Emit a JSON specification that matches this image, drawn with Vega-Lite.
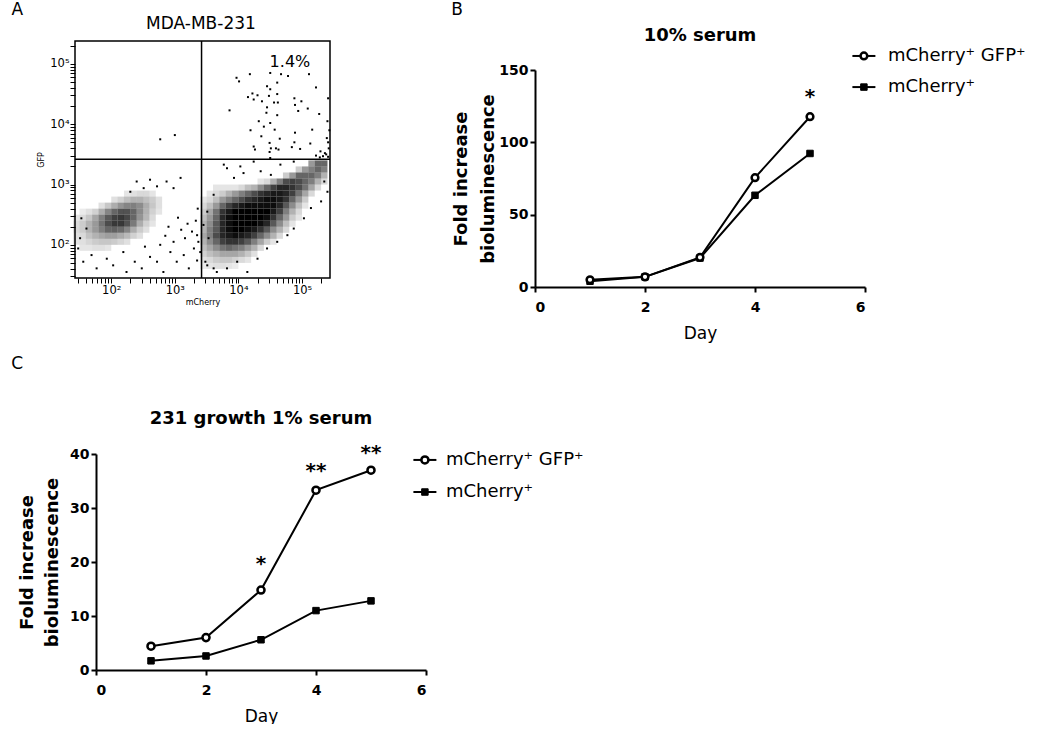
{
  "$schema": "https://vega.github.io/schema/vega-lite/v6.json",
  "background": "white",
  "padding": {"left": 10, "top": 0, "right": 0, "bottom": 0},
  "config": {
    "font": "DejaVu Sans",
    "view": {"stroke": null},
    "axis": {"grid": false, "domainColor": "black", "tickColor": "black", "labelColor": "black", "titleColor": "black", "labelFont": "DejaVu Sans", "titleFont": "DejaVu Sans"}
  },
  "datasets": {
    "serum10": [
      {"day": 1, "series": "mCherry⁺ GFP⁺", "value": 5},
      {"day": 2, "series": "mCherry⁺ GFP⁺", "value": 7},
      {"day": 3, "series": "mCherry⁺ GFP⁺", "value": 20.5},
      {"day": 4, "series": "mCherry⁺ GFP⁺", "value": 75.6},
      {"day": 5, "series": "mCherry⁺ GFP⁺", "value": 117.7},
      {"day": 1, "series": "mCherry⁺", "value": 4},
      {"day": 2, "series": "mCherry⁺", "value": 7},
      {"day": 3, "series": "mCherry⁺", "value": 20},
      {"day": 4, "series": "mCherry⁺", "value": 63.4},
      {"day": 5, "series": "mCherry⁺", "value": 92.3}
    ],
    "serum1": [
      {"day": 1, "series": "mCherry⁺ GFP⁺", "value": 4.4},
      {"day": 2, "series": "mCherry⁺ GFP⁺", "value": 6.0},
      {"day": 3, "series": "mCherry⁺ GFP⁺", "value": 14.8},
      {"day": 4, "series": "mCherry⁺ GFP⁺", "value": 33.3},
      {"day": 5, "series": "mCherry⁺ GFP⁺", "value": 37.0},
      {"day": 1, "series": "mCherry⁺", "value": 1.7},
      {"day": 2, "series": "mCherry⁺", "value": 2.6},
      {"day": 3, "series": "mCherry⁺", "value": 5.6},
      {"day": 4, "series": "mCherry⁺", "value": 11.0},
      {"day": 5, "series": "mCherry⁺", "value": 12.8}
    ],
    "sig10": [{"day": 5, "value": 131, "sig": "*"}],
    "sig1": [{"day": 3, "value": 19.7, "sig": "*"}, {"day": 4, "value": 36.9, "sig": "**"}, {"day": 5, "value": 40.1, "sig": "**"}],
    "gates": [{"mch": 3.42, "gfp": 3.42}],
    "quadrant": [{"mch": 4.81, "gfp": 5.04, "pct": "1.4%"}],
    "headA": [{"mch": 0.523, "gfp": 5.889, "panel": "A"}],
    "titleA": [{"mch": 3.411, "gfp": 5.654, "title": "MDA-MB-231"}],
    "headB": [{"day": -1.418, "value": 191.3, "panel": "B"}],
    "titleB": [{"day": 3.0, "value": 173.8, "title": "10% serum"}],
    "headC": [{"day": -1.431, "value": 56.67, "panel": "C"}],
    "titleC": [{"day": 3.0, "value": 46.48, "title": "231 growth 1% serum"}],
    "keyB": [{"series": "mCherry⁺ GFP⁺", "day": 5.98, "value": 159.7}, {"series": "mCherry⁺", "day": 5.98, "value": 138.2}],
    "keyC": [{"series": "mCherry⁺ GFP⁺", "day": 5.98, "value": 38.9}, {"series": "mCherry⁺", "day": 5.98, "value": 32.96}],
    "cells": [
      {"mch":5.15,"gfp":3.35,"dens":0.4},{"mch":5.25,"gfp":3.35,"dens":0.6},{"mch":5.35,"gfp":3.35,"dens":0.6},
      {"mch":4.95,"gfp":3.25,"dens":0.2},{"mch":5.05,"gfp":3.25,"dens":0.4},{"mch":5.15,"gfp":3.25,"dens":0.5},{"mch":5.25,"gfp":3.25,"dens":0.6},{"mch":5.35,"gfp":3.25,"dens":0.5},
      {"mch":4.75,"gfp":3.15,"dens":0.2},{"mch":4.85,"gfp":3.15,"dens":0.4},{"mch":4.95,"gfp":3.15,"dens":0.6},{"mch":5.05,"gfp":3.15,"dens":0.6},{"mch":5.15,"gfp":3.15,"dens":0.6},{"mch":5.25,"gfp":3.15,"dens":0.5},{"mch":5.35,"gfp":3.15,"dens":0.3},
      {"mch":4.35,"gfp":3.05,"dens":0.1},{"mch":4.45,"gfp":3.05,"dens":0.15},{"mch":4.55,"gfp":3.05,"dens":0.3},{"mch":4.65,"gfp":3.05,"dens":0.5},{"mch":4.75,"gfp":3.05,"dens":0.7},{"mch":4.85,"gfp":3.05,"dens":0.75},{"mch":4.95,"gfp":3.05,"dens":0.7},{"mch":5.05,"gfp":3.05,"dens":0.6},{"mch":5.15,"gfp":3.05,"dens":0.5},{"mch":5.25,"gfp":3.05,"dens":0.3},{"mch":5.35,"gfp":3.05,"dens":0.15},
      {"mch":3.65,"gfp":2.95,"dens":0.1},{"mch":3.75,"gfp":2.95,"dens":0.1},{"mch":3.85,"gfp":2.95,"dens":0.1},{"mch":3.95,"gfp":2.95,"dens":0.1},{"mch":4.05,"gfp":2.95,"dens":0.15},{"mch":4.15,"gfp":2.95,"dens":0.25},{"mch":4.25,"gfp":2.95,"dens":0.3},{"mch":4.35,"gfp":2.95,"dens":0.45},{"mch":4.45,"gfp":2.95,"dens":0.6},{"mch":4.55,"gfp":2.95,"dens":0.75},{"mch":4.65,"gfp":2.95,"dens":0.85},{"mch":4.75,"gfp":2.95,"dens":0.85},{"mch":4.85,"gfp":2.95,"dens":0.8},{"mch":4.95,"gfp":2.95,"dens":0.7},{"mch":5.05,"gfp":2.95,"dens":0.55},{"mch":5.15,"gfp":2.95,"dens":0.35},{"mch":5.25,"gfp":2.95,"dens":0.15},
      {"mch":3.55,"gfp":2.85,"dens":0.1},{"mch":3.65,"gfp":2.85,"dens":0.15},{"mch":3.75,"gfp":2.85,"dens":0.2},{"mch":3.85,"gfp":2.85,"dens":0.3},{"mch":3.95,"gfp":2.85,"dens":0.4},{"mch":4.05,"gfp":2.85,"dens":0.5},{"mch":4.15,"gfp":2.85,"dens":0.6},{"mch":4.25,"gfp":2.85,"dens":0.7},{"mch":4.35,"gfp":2.85,"dens":0.8},{"mch":4.45,"gfp":2.85,"dens":0.85},{"mch":4.55,"gfp":2.85,"dens":0.9},{"mch":4.65,"gfp":2.85,"dens":0.9},{"mch":4.75,"gfp":2.85,"dens":0.85},{"mch":4.85,"gfp":2.85,"dens":0.75},{"mch":4.95,"gfp":2.85,"dens":0.55},{"mch":5.05,"gfp":2.85,"dens":0.35},{"mch":5.15,"gfp":2.85,"dens":0.15},
      {"mch":3.45,"gfp":2.75,"dens":0.1},{"mch":3.55,"gfp":2.75,"dens":0.15},{"mch":3.65,"gfp":2.75,"dens":0.25},{"mch":3.75,"gfp":2.75,"dens":0.4},{"mch":3.85,"gfp":2.75,"dens":0.5},{"mch":3.95,"gfp":2.75,"dens":0.6},{"mch":4.05,"gfp":2.75,"dens":0.7},{"mch":4.15,"gfp":2.75,"dens":0.8},{"mch":4.25,"gfp":2.75,"dens":0.85},{"mch":4.35,"gfp":2.75,"dens":0.9},{"mch":4.45,"gfp":2.75,"dens":0.95},{"mch":4.55,"gfp":2.75,"dens":0.95},{"mch":4.65,"gfp":2.75,"dens":0.9},{"mch":4.75,"gfp":2.75,"dens":0.8},{"mch":4.85,"gfp":2.75,"dens":0.6},{"mch":4.95,"gfp":2.75,"dens":0.4},{"mch":5.05,"gfp":2.75,"dens":0.2},
      {"mch":3.45,"gfp":2.65,"dens":0.15},{"mch":3.55,"gfp":2.65,"dens":0.25},{"mch":3.65,"gfp":2.65,"dens":0.4},{"mch":3.75,"gfp":2.65,"dens":0.6},{"mch":3.85,"gfp":2.65,"dens":0.75},{"mch":3.95,"gfp":2.65,"dens":0.85},{"mch":4.05,"gfp":2.65,"dens":0.9},{"mch":4.15,"gfp":2.65,"dens":0.95},{"mch":4.25,"gfp":2.65,"dens":0.95},{"mch":4.35,"gfp":2.65,"dens":0.95},{"mch":4.45,"gfp":2.65,"dens":0.95},{"mch":4.55,"gfp":2.65,"dens":0.95},{"mch":4.65,"gfp":2.65,"dens":0.85},{"mch":4.75,"gfp":2.65,"dens":0.65},{"mch":4.85,"gfp":2.65,"dens":0.45},{"mch":4.95,"gfp":2.65,"dens":0.25},{"mch":5.05,"gfp":2.65,"dens":0.1},
      {"mch":3.45,"gfp":2.55,"dens":0.2},{"mch":3.55,"gfp":2.55,"dens":0.35},{"mch":3.65,"gfp":2.55,"dens":0.55},{"mch":3.75,"gfp":2.55,"dens":0.8},{"mch":3.85,"gfp":2.55,"dens":0.9},{"mch":3.95,"gfp":2.55,"dens":1},{"mch":4.05,"gfp":2.55,"dens":1},{"mch":4.15,"gfp":2.55,"dens":1},{"mch":4.25,"gfp":2.55,"dens":1},{"mch":4.35,"gfp":2.55,"dens":1},{"mch":4.45,"gfp":2.55,"dens":1},{"mch":4.55,"gfp":2.55,"dens":0.9},{"mch":4.65,"gfp":2.55,"dens":0.75},{"mch":4.75,"gfp":2.55,"dens":0.5},{"mch":4.85,"gfp":2.55,"dens":0.3},{"mch":4.95,"gfp":2.55,"dens":0.15},
      {"mch":3.45,"gfp":2.45,"dens":0.25},{"mch":3.55,"gfp":2.45,"dens":0.4},{"mch":3.65,"gfp":2.45,"dens":0.6},{"mch":3.75,"gfp":2.45,"dens":0.85},{"mch":3.85,"gfp":2.45,"dens":0.95},{"mch":3.95,"gfp":2.45,"dens":1},{"mch":4.05,"gfp":2.45,"dens":1},{"mch":4.15,"gfp":2.45,"dens":1},{"mch":4.25,"gfp":2.45,"dens":1},{"mch":4.35,"gfp":2.45,"dens":1},{"mch":4.45,"gfp":2.45,"dens":0.95},{"mch":4.55,"gfp":2.45,"dens":0.8},{"mch":4.65,"gfp":2.45,"dens":0.6},{"mch":4.75,"gfp":2.45,"dens":0.4},{"mch":4.85,"gfp":2.45,"dens":0.2},{"mch":4.95,"gfp":2.45,"dens":0.1},
      {"mch":3.45,"gfp":2.35,"dens":0.3},{"mch":3.55,"gfp":2.35,"dens":0.45},{"mch":3.65,"gfp":2.35,"dens":0.65},{"mch":3.75,"gfp":2.35,"dens":0.85},{"mch":3.85,"gfp":2.35,"dens":0.95},{"mch":3.95,"gfp":2.35,"dens":1},{"mch":4.05,"gfp":2.35,"dens":1},{"mch":4.15,"gfp":2.35,"dens":1},{"mch":4.25,"gfp":2.35,"dens":1},{"mch":4.35,"gfp":2.35,"dens":0.95},{"mch":4.45,"gfp":2.35,"dens":0.85},{"mch":4.55,"gfp":2.35,"dens":0.65},{"mch":4.65,"gfp":2.35,"dens":0.45},{"mch":4.75,"gfp":2.35,"dens":0.25},{"mch":4.85,"gfp":2.35,"dens":0.1},
      {"mch":3.45,"gfp":2.25,"dens":0.3},{"mch":3.55,"gfp":2.25,"dens":0.5},{"mch":3.65,"gfp":2.25,"dens":0.65},{"mch":3.75,"gfp":2.25,"dens":0.85},{"mch":3.85,"gfp":2.25,"dens":0.95},{"mch":3.95,"gfp":2.25,"dens":1},{"mch":4.05,"gfp":2.25,"dens":1},{"mch":4.15,"gfp":2.25,"dens":0.95},{"mch":4.25,"gfp":2.25,"dens":0.9},{"mch":4.35,"gfp":2.25,"dens":0.8},{"mch":4.45,"gfp":2.25,"dens":0.65},{"mch":4.55,"gfp":2.25,"dens":0.45},{"mch":4.65,"gfp":2.25,"dens":0.3},{"mch":4.75,"gfp":2.25,"dens":0.15},
      {"mch":3.45,"gfp":2.15,"dens":0.35},{"mch":3.55,"gfp":2.15,"dens":0.5},{"mch":3.65,"gfp":2.15,"dens":0.7},{"mch":3.75,"gfp":2.15,"dens":0.85},{"mch":3.85,"gfp":2.15,"dens":0.9},{"mch":3.95,"gfp":2.15,"dens":0.95},{"mch":4.05,"gfp":2.15,"dens":0.9},{"mch":4.15,"gfp":2.15,"dens":0.85},{"mch":4.25,"gfp":2.15,"dens":0.75},{"mch":4.35,"gfp":2.15,"dens":0.6},{"mch":4.45,"gfp":2.15,"dens":0.45},{"mch":4.55,"gfp":2.15,"dens":0.3},{"mch":4.65,"gfp":2.15,"dens":0.15},
      {"mch":3.45,"gfp":2.05,"dens":0.3},{"mch":3.55,"gfp":2.05,"dens":0.45},{"mch":3.65,"gfp":2.05,"dens":0.6},{"mch":3.75,"gfp":2.05,"dens":0.75},{"mch":3.85,"gfp":2.05,"dens":0.8},{"mch":3.95,"gfp":2.05,"dens":0.8},{"mch":4.05,"gfp":2.05,"dens":0.75},{"mch":4.15,"gfp":2.05,"dens":0.65},{"mch":4.25,"gfp":2.05,"dens":0.5},{"mch":4.35,"gfp":2.05,"dens":0.35},{"mch":4.45,"gfp":2.05,"dens":0.2},{"mch":4.55,"gfp":2.05,"dens":0.1},
      {"mch":3.45,"gfp":1.95,"dens":0.25},{"mch":3.55,"gfp":1.95,"dens":0.35},{"mch":3.65,"gfp":1.95,"dens":0.45},{"mch":3.75,"gfp":1.95,"dens":0.55},{"mch":3.85,"gfp":1.95,"dens":0.6},{"mch":3.95,"gfp":1.95,"dens":0.55},{"mch":4.05,"gfp":1.95,"dens":0.5},{"mch":4.15,"gfp":1.95,"dens":0.4},{"mch":4.25,"gfp":1.95,"dens":0.3},{"mch":4.35,"gfp":1.95,"dens":0.15},
      {"mch":3.45,"gfp":1.85,"dens":0.18},{"mch":3.55,"gfp":1.85,"dens":0.25},{"mch":3.65,"gfp":1.85,"dens":0.3},{"mch":3.75,"gfp":1.85,"dens":0.35},{"mch":3.85,"gfp":1.85,"dens":0.35},{"mch":3.95,"gfp":1.85,"dens":0.35},{"mch":4.05,"gfp":1.85,"dens":0.3},{"mch":4.15,"gfp":1.85,"dens":0.22},{"mch":4.25,"gfp":1.85,"dens":0.12},
      {"mch":3.45,"gfp":1.75,"dens":0.12},{"mch":3.55,"gfp":1.75,"dens":0.15},{"mch":3.65,"gfp":1.75,"dens":0.2},{"mch":3.75,"gfp":1.75,"dens":0.22},{"mch":3.85,"gfp":1.75,"dens":0.22},{"mch":3.95,"gfp":1.75,"dens":0.18},{"mch":4.05,"gfp":1.75,"dens":0.14},{"mch":4.15,"gfp":1.75,"dens":0.1},
      {"mch":3.45,"gfp":1.65,"dens":0.08},{"mch":3.55,"gfp":1.65,"dens":0.1},{"mch":3.65,"gfp":1.65,"dens":0.12},{"mch":3.75,"gfp":1.65,"dens":0.12},{"mch":3.85,"gfp":1.65,"dens":0.1},{"mch":3.95,"gfp":1.65,"dens":0.08},
      {"mch":2.25,"gfp":2.85,"dens":0.1},{"mch":2.35,"gfp":2.85,"dens":0.12},{"mch":2.45,"gfp":2.85,"dens":0.15},{"mch":2.55,"gfp":2.85,"dens":0.15},{"mch":2.65,"gfp":2.85,"dens":0.1},
      {"mch":2.05,"gfp":2.75,"dens":0.12},{"mch":2.15,"gfp":2.75,"dens":0.18},{"mch":2.25,"gfp":2.75,"dens":0.25},{"mch":2.35,"gfp":2.75,"dens":0.3},{"mch":2.45,"gfp":2.75,"dens":0.3},{"mch":2.55,"gfp":2.75,"dens":0.25},{"mch":2.65,"gfp":2.75,"dens":0.2},{"mch":2.75,"gfp":2.75,"dens":0.12},
      {"mch":1.85,"gfp":2.65,"dens":0.12},{"mch":1.95,"gfp":2.65,"dens":0.22},{"mch":2.05,"gfp":2.65,"dens":0.32},{"mch":2.15,"gfp":2.65,"dens":0.42},{"mch":2.25,"gfp":2.65,"dens":0.48},{"mch":2.35,"gfp":2.65,"dens":0.5},{"mch":2.45,"gfp":2.65,"dens":0.45},{"mch":2.55,"gfp":2.65,"dens":0.32},{"mch":2.65,"gfp":2.65,"dens":0.22},{"mch":2.75,"gfp":2.65,"dens":0.12},
      {"mch":1.55,"gfp":2.55,"dens":0.08},{"mch":1.65,"gfp":2.55,"dens":0.12},{"mch":1.75,"gfp":2.55,"dens":0.18},{"mch":1.85,"gfp":2.55,"dens":0.32},{"mch":1.95,"gfp":2.55,"dens":0.48},{"mch":2.05,"gfp":2.55,"dens":0.6},{"mch":2.15,"gfp":2.55,"dens":0.68},{"mch":2.25,"gfp":2.55,"dens":0.68},{"mch":2.35,"gfp":2.55,"dens":0.6},{"mch":2.45,"gfp":2.55,"dens":0.45},{"mch":2.55,"gfp":2.55,"dens":0.3},{"mch":2.65,"gfp":2.55,"dens":0.18},{"mch":2.75,"gfp":2.55,"dens":0.1},
      {"mch":1.45,"gfp":2.45,"dens":0.1},{"mch":1.55,"gfp":2.45,"dens":0.14},{"mch":1.65,"gfp":2.45,"dens":0.22},{"mch":1.75,"gfp":2.45,"dens":0.35},{"mch":1.85,"gfp":2.45,"dens":0.5},{"mch":1.95,"gfp":2.45,"dens":0.65},{"mch":2.05,"gfp":2.45,"dens":0.75},{"mch":2.15,"gfp":2.45,"dens":0.78},{"mch":2.25,"gfp":2.45,"dens":0.72},{"mch":2.35,"gfp":2.45,"dens":0.6},{"mch":2.45,"gfp":2.45,"dens":0.42},{"mch":2.55,"gfp":2.45,"dens":0.28},{"mch":2.65,"gfp":2.45,"dens":0.14},
      {"mch":1.45,"gfp":2.35,"dens":0.14},{"mch":1.55,"gfp":2.35,"dens":0.2},{"mch":1.65,"gfp":2.35,"dens":0.3},{"mch":1.75,"gfp":2.35,"dens":0.4},{"mch":1.85,"gfp":2.35,"dens":0.55},{"mch":1.95,"gfp":2.35,"dens":0.7},{"mch":2.05,"gfp":2.35,"dens":0.78},{"mch":2.15,"gfp":2.35,"dens":0.78},{"mch":2.25,"gfp":2.35,"dens":0.68},{"mch":2.35,"gfp":2.35,"dens":0.52},{"mch":2.45,"gfp":2.35,"dens":0.32},{"mch":2.55,"gfp":2.35,"dens":0.18},{"mch":2.65,"gfp":2.35,"dens":0.1},
      {"mch":1.45,"gfp":2.25,"dens":0.15},{"mch":1.55,"gfp":2.25,"dens":0.2},{"mch":1.65,"gfp":2.25,"dens":0.3},{"mch":1.75,"gfp":2.25,"dens":0.4},{"mch":1.85,"gfp":2.25,"dens":0.5},{"mch":1.95,"gfp":2.25,"dens":0.6},{"mch":2.05,"gfp":2.25,"dens":0.62},{"mch":2.15,"gfp":2.25,"dens":0.58},{"mch":2.25,"gfp":2.25,"dens":0.48},{"mch":2.35,"gfp":2.25,"dens":0.32},{"mch":2.45,"gfp":2.25,"dens":0.2},{"mch":2.55,"gfp":2.25,"dens":0.12},
      {"mch":1.45,"gfp":2.15,"dens":0.12},{"mch":1.55,"gfp":2.15,"dens":0.15},{"mch":1.65,"gfp":2.15,"dens":0.24},{"mch":1.75,"gfp":2.15,"dens":0.3},{"mch":1.85,"gfp":2.15,"dens":0.35},{"mch":1.95,"gfp":2.15,"dens":0.38},{"mch":2.05,"gfp":2.15,"dens":0.38},{"mch":2.15,"gfp":2.15,"dens":0.33},{"mch":2.25,"gfp":2.15,"dens":0.27},{"mch":2.35,"gfp":2.15,"dens":0.18},{"mch":2.45,"gfp":2.15,"dens":0.12},
      {"mch":1.45,"gfp":2.05,"dens":0.1},{"mch":1.55,"gfp":2.05,"dens":0.12},{"mch":1.65,"gfp":2.05,"dens":0.16},{"mch":1.75,"gfp":2.05,"dens":0.2},{"mch":1.85,"gfp":2.05,"dens":0.22},{"mch":1.95,"gfp":2.05,"dens":0.22},{"mch":2.05,"gfp":2.05,"dens":0.2},{"mch":2.15,"gfp":2.05,"dens":0.16},{"mch":2.25,"gfp":2.05,"dens":0.12},
      {"mch":1.55,"gfp":1.95,"dens":0.1},{"mch":1.65,"gfp":1.95,"dens":0.1},{"mch":1.75,"gfp":1.95,"dens":0.12},{"mch":1.85,"gfp":1.95,"dens":0.12},{"mch":1.95,"gfp":1.95,"dens":0.1}
    ],
    "events": [
      {"mch":3.97,"gfp":4.77},{"mch":4.01,"gfp":4.71},{"mch":4.18,"gfp":4.83},{"mch":4.5,"gfp":4.85},{"mch":4.67,"gfp":4.83},{"mch":4.78,"gfp":4.8},{"mch":5.11,"gfp":4.83},{"mch":4.61,"gfp":4.69},{"mch":4.45,"gfp":4.63},{"mch":4.5,"gfp":4.58},
      {"mch":4.22,"gfp":4.51},{"mch":4.3,"gfp":4.48},{"mch":4.15,"gfp":4.45},{"mch":4.61,"gfp":4.5},{"mch":4.48,"gfp":4.47},{"mch":4.24,"gfp":4.41},{"mch":4.37,"gfp":4.38},{"mch":4.56,"gfp":4.36},{"mch":4.62,"gfp":4.36},{"mch":4.88,"gfp":4.43},
      {"mch":4.99,"gfp":4.38},{"mch":5.22,"gfp":4.61},{"mch":3.86,"gfp":4.23},{"mch":4.45,"gfp":4.28},{"mch":4.44,"gfp":4.19},{"mch":4.61,"gfp":4.15},{"mch":4.89,"gfp":4.32},{"mch":4.94,"gfp":4.22},{"mch":5.09,"gfp":4.26},{"mch":5.27,"gfp":4.17},
      {"mch":5.41,"gfp":4.43},{"mch":4.32,"gfp":4.05},{"mch":4.5,"gfp":4.02},{"mch":4.4,"gfp":3.96},{"mch":4.57,"gfp":3.91},{"mch":4.19,"gfp":3.9},{"mch":4.89,"gfp":3.86},{"mch":5.16,"gfp":3.91},{"mch":4.36,"gfp":3.8},{"mch":4.65,"gfp":3.76},
      {"mch":4.88,"gfp":3.7},{"mch":4.49,"gfp":3.69},{"mch":5.13,"gfp":3.68},{"mch":4.24,"gfp":3.63},{"mch":4.26,"gfp":3.58},{"mch":4.51,"gfp":3.6},{"mch":4.59,"gfp":3.6},{"mch":4.63,"gfp":3.58},{"mch":4.84,"gfp":3.62},{"mch":4.97,"gfp":3.59},
      {"mch":4.49,"gfp":3.54},{"mch":5.29,"gfp":3.55},{"mch":5.39,"gfp":3.77},{"mch":5.4,"gfp":4.05},{"mch":4.5,"gfp":3.44},{"mch":5.33,"gfp":3.47},{"mch":5.38,"gfp":3.5},{"mch":5.41,"gfp":3.46},{"mch":5.36,"gfp":3.52},{"mch":5.28,"gfp":3.45},
      {"mch":5.22,"gfp":3.48},{"mch":5.42,"gfp":3.6},{"mch":5.41,"gfp":3.7},{"mch":5.43,"gfp":3.9},{"mch":2.77,"gfp":3.75},{"mch":3.0,"gfp":3.82},
      {"mch":1.56,"gfp":1.72},{"mch":1.69,"gfp":1.83},{"mch":1.77,"gfp":1.61},{"mch":1.93,"gfp":1.77},{"mch":2.03,"gfp":1.66},{"mch":2.19,"gfp":1.88},{"mch":2.24,"gfp":1.55},{"mch":2.37,"gfp":1.72},{"mch":2.48,"gfp":1.61},{"mch":2.61,"gfp":1.8},
      {"mch":2.72,"gfp":1.72},{"mch":2.82,"gfp":1.55},{"mch":2.93,"gfp":1.88},{"mch":3.03,"gfp":1.72},{"mch":3.14,"gfp":1.83},{"mch":3.22,"gfp":1.61},{"mch":3.3,"gfp":1.94},{"mch":3.35,"gfp":1.74},{"mch":2.53,"gfp":1.97},{"mch":2.77,"gfp":2.0},
      {"mch":2.98,"gfp":2.05},{"mch":3.16,"gfp":2.11},{"mch":3.27,"gfp":2.22},{"mch":3.37,"gfp":2.05},{"mch":1.51,"gfp":2.11},{"mch":1.48,"gfp":1.94},{"mch":1.61,"gfp":2.27},{"mch":1.53,"gfp":2.44},{"mch":2.4,"gfp":3.05},{"mch":2.61,"gfp":3.08},
      {"mch":2.87,"gfp":3.05},{"mch":3.09,"gfp":3.11},{"mch":2.98,"gfp":2.94},{"mch":2.72,"gfp":2.97},{"mch":2.51,"gfp":2.94},{"mch":2.3,"gfp":2.88},
      {"mch":3.77,"gfp":3.33},{"mch":3.82,"gfp":3.27},{"mch":4.03,"gfp":3.3},{"mch":4.35,"gfp":3.22},{"mch":4.24,"gfp":3.38},{"mch":3.93,"gfp":3.11},{"mch":3.61,"gfp":2.83},{"mch":3.51,"gfp":2.55},{"mch":3.45,"gfp":2.33},{"mch":3.53,"gfp":2.11},
      {"mch":3.4,"gfp":1.88},{"mch":3.51,"gfp":1.66},{"mch":3.66,"gfp":1.55},{"mch":3.82,"gfp":1.61},{"mch":3.98,"gfp":1.72},{"mch":4.14,"gfp":1.55},{"mch":4.3,"gfp":1.77},{"mch":4.45,"gfp":1.94},{"mch":4.61,"gfp":2.05},{"mch":4.77,"gfp":2.16},
      {"mch":4.87,"gfp":2.27},{"mch":5.03,"gfp":2.44},{"mch":5.14,"gfp":2.61},{"mch":5.3,"gfp":2.72},{"mch":5.4,"gfp":2.88},{"mch":5.35,"gfp":3.05},{"mch":4.66,"gfp":3.33},{"mch":4.87,"gfp":3.38},{"mch":4.51,"gfp":3.16},{"mch":4.08,"gfp":3.19},
      {"mch":3.61,"gfp":1.61},{"mch":3.35,"gfp":2.16},{"mch":3.48,"gfp":1.72},{"mch":3.33,"gfp":2.4},{"mch":3.36,"gfp":2.6},{"mch":3.2,"gfp":2.35},{"mch":3.1,"gfp":2.25},{"mch":3.05,"gfp":2.45},{"mch":2.9,"gfp":2.3},{"mch":2.85,"gfp":2.15}
    ]
  },
  "spacing": 13,
  "vconcat": [
    {
      "spacing": 119,
      "hconcat": [
        {
          "width": 255,
          "height": 237,
          "view": {"stroke": "black", "strokeWidth": 1.5},
          "encoding": {
            "x": {"field": "mch", "type": "quantitative", "scale": {"domain": [1.43, 5.44], "nice": false, "zero": false},
              "axis": {"title": "mCherry", "titleFontSize": 8, "titleFontWeight": "normal", "titlePadding": 3,
                "values": [1.477,1.602,1.699,1.778,1.845,1.903,1.954,2,2.301,2.477,2.602,2.699,2.778,2.845,2.903,2.954,3,3.301,3.477,3.602,3.699,3.778,3.845,3.903,3.954,4,4.301,4.477,4.602,4.699,4.778,4.845,4.903,4.954,5,5.301],
                "labelExpr": "datum.value == 2 ? '10²' : datum.value == 3 ? '10³' : datum.value == 4 ? '10⁴' : datum.value == 5 ? '10⁵' : ''",
                "labelFontSize": 11.5, "labelPadding": 1, "tickSize": 5, "tickWidth": 1, "domain": false, "labelOverlap": false, "labelFlush": false}},
            "y": {"field": "gfp", "type": "quantitative", "scale": {"domain": [1.45, 5.38], "nice": false, "zero": false},
              "axis": {"title": "GFP", "titleFontSize": 8, "titleFontWeight": "normal", "titlePadding": 4,
                "values": [1.477,1.602,1.699,1.778,1.845,1.903,1.954,2,2.301,2.477,2.602,2.699,2.778,2.845,2.903,2.954,3,3.301,3.477,3.602,3.699,3.778,3.845,3.903,3.954,4,4.301,4.477,4.602,4.699,4.778,4.845,4.903,4.954,5,5.301],
                "labelExpr": "datum.value == 2 ? '10²' : datum.value == 3 ? '10³' : datum.value == 4 ? '10⁴' : datum.value == 5 ? '10⁵' : ''",
                "labelFontSize": 11.5, "labelPadding": 1, "tickSize": 5, "tickWidth": 1, "domain": false, "labelOverlap": false, "labelFlush": false}}
          },
          "layer": [
            {"data": {"name": "cells"}, "mark": {"type": "rect", "width": 6.4, "height": 6.05, "color": "black"},
              "encoding": {"opacity": {"field": "dens", "type": "quantitative", "scale": {"domain": [0, 1], "range": [0, 1]}, "legend": null}}},
            {"data": {"name": "events"}, "mark": {"type": "square", "size": 4, "color": "black", "opacity": 1}},
            {"data": {"name": "gates"}, "mark": {"type": "rule", "color": "black", "strokeWidth": 1.5}, "encoding": {"y": null}},
            {"data": {"name": "gates"}, "mark": {"type": "rule", "color": "black", "strokeWidth": 1.5}, "encoding": {"x": null}},
            {"data": {"name": "quadrant"}, "mark": {"type": "text", "fontSize": 16, "align": "center", "baseline": "middle", "color": "black"}, "encoding": {"text": {"field": "pct"}}},
            {"data": {"name": "titleA"}, "mark": {"type": "text", "fontSize": 17, "align": "center", "baseline": "middle", "color": "black"}, "encoding": {"text": {"field": "title"}}},
            {"data": {"name": "headA"}, "mark": {"type": "text", "fontSize": 17, "align": "center", "baseline": "middle", "color": "black"}, "encoding": {"text": {"field": "panel"}}}
          ]
        },
        {
          "width": 330,
          "height": 246,
          "data": {"name": "serum10"},
          "encoding": {
            "x": {"field": "day", "type": "quantitative", "scale": {"domain": [0, 6], "nice": false},
              "axis": {"values": [0, 2, 4, 6], "title": "Day", "titleFontSize": 17, "titleFontWeight": "normal", "titlePadding": 11, "labelFontSize": 14, "labelFontWeight": "bold", "labelPadding": 8, "tickSize": 5, "tickWidth": 2, "domainWidth": 2}},
            "y": {"field": "value", "type": "quantitative", "scale": {"domain": [0, 150], "range": [246, 29], "nice": false},
              "axis": {"values": [0, 50, 100, 150], "title": ["Fold increase", "bioluminescence"], "titleFontSize": 18, "titleFontWeight": "bold", "titleLineHeight": 27, "titlePadding": 1, "labelFontSize": 14, "labelFontWeight": "bold", "labelPadding": 2, "tickSize": 5, "tickWidth": 2, "domainWidth": 2}}
          },
          "layer": [
            {"mark": {"type": "line", "color": "black", "strokeWidth": 2}, "encoding": {"detail": {"field": "series"}}},
            {"transform": [{"filter": {"field": "series", "equal": "mCherry⁺"}}], "mark": {"type": "square", "size": 42, "filled": true, "color": "black", "strokeWidth": 1, "stroke": "black", "opacity": 1}},
            {"transform": [{"filter": {"field": "series", "equal": "mCherry⁺ GFP⁺"}}], "mark": {"type": "point", "shape": "circle", "size": 45, "filled": true, "fill": "white", "stroke": "black", "strokeWidth": 2.5, "opacity": 1}},
            {"data": {"name": "sig10"}, "mark": {"type": "text", "fontSize": 20, "fontWeight": "bold", "baseline": "middle", "align": "center", "color": "black"}, "encoding": {"text": {"field": "sig"}}},
            {"data": {"name": "titleB"}, "mark": {"type": "text", "fontSize": 18, "fontWeight": "bold", "align": "center", "baseline": "middle", "color": "black"}, "encoding": {"text": {"field": "title"}}},
            {"data": {"name": "headB"}, "mark": {"type": "text", "fontSize": 17, "align": "center", "baseline": "middle", "color": "black"}, "encoding": {"text": {"field": "panel"}}},
            {"data": {"name": "keyB"}, "mark": {"type": "tick", "orient": "horizontal", "size": 23, "thickness": 2, "color": "black", "opacity": 1}},
            {"data": {"name": "keyB"}, "transform": [{"filter": {"field": "series", "equal": "mCherry⁺ GFP⁺"}}], "mark": {"type": "point", "shape": "circle", "size": 45, "filled": true, "fill": "white", "stroke": "black", "strokeWidth": 2.5, "opacity": 1}},
            {"data": {"name": "keyB"}, "transform": [{"filter": {"field": "series", "equal": "mCherry⁺"}}], "mark": {"type": "square", "size": 42, "filled": true, "color": "black", "strokeWidth": 1, "stroke": "black", "opacity": 1}},
            {"data": {"name": "keyB"}, "mark": {"type": "text", "fontSize": 18, "align": "left", "baseline": "middle", "dx": 24, "color": "black"}, "encoding": {"text": {"field": "series"}}}
          ]
        }
      ]
    },
    {
      "width": 351,
      "height": 216,
      "data": {"name": "serum1"},
      "encoding": {
        "x": {"field": "day", "type": "quantitative", "scale": {"domain": [0, 6], "range": [21, 351], "nice": false},
          "axis": {"values": [0, 2, 4, 6], "title": "Day", "titleFontSize": 17, "titleFontWeight": "normal", "titlePadding": 11, "labelFontSize": 14, "labelFontWeight": "bold", "labelPadding": 8, "tickSize": 5, "tickWidth": 2, "domainWidth": 2}},
        "y": {"field": "value", "type": "quantitative", "scale": {"domain": [0, 40], "nice": false},
          "axis": {"values": [0, 10, 20, 30, 40], "offset": -21, "title": ["Fold increase", "bioluminescence"], "titleFontSize": 18, "titleFontWeight": "bold", "titleLineHeight": 25, "titlePadding": 8, "labelFontSize": 14, "labelFontWeight": "bold", "labelPadding": 2, "tickSize": 5, "tickWidth": 2, "domainWidth": 2}}
      },
      "layer": [
        {"mark": {"type": "line", "color": "black", "strokeWidth": 2}, "encoding": {"detail": {"field": "series"}}},
        {"transform": [{"filter": {"field": "series", "equal": "mCherry⁺"}}], "mark": {"type": "square", "size": 42, "filled": true, "color": "black", "strokeWidth": 1, "stroke": "black", "opacity": 1}},
        {"transform": [{"filter": {"field": "series", "equal": "mCherry⁺ GFP⁺"}}], "mark": {"type": "point", "shape": "circle", "size": 50, "filled": true, "fill": "white", "stroke": "black", "strokeWidth": 2.5, "opacity": 1}},
        {"data": {"name": "sig1"}, "mark": {"type": "text", "fontSize": 20, "fontWeight": "bold", "baseline": "middle", "align": "center", "color": "black"}, "encoding": {"text": {"field": "sig"}}},
        {"data": {"name": "titleC"}, "mark": {"type": "text", "fontSize": 18, "fontWeight": "bold", "align": "center", "baseline": "middle", "color": "black"}, "encoding": {"text": {"field": "title"}}},
        {"data": {"name": "headC"}, "mark": {"type": "text", "fontSize": 17, "align": "center", "baseline": "middle", "color": "black"}, "encoding": {"text": {"field": "panel"}}},
        {"data": {"name": "keyC"}, "mark": {"type": "tick", "orient": "horizontal", "size": 23, "thickness": 2, "color": "black", "opacity": 1}},
        {"data": {"name": "keyC"}, "transform": [{"filter": {"field": "series", "equal": "mCherry⁺ GFP⁺"}}], "mark": {"type": "point", "shape": "circle", "size": 50, "filled": true, "fill": "white", "stroke": "black", "strokeWidth": 2.5, "opacity": 1}},
        {"data": {"name": "keyC"}, "transform": [{"filter": {"field": "series", "equal": "mCherry⁺"}}], "mark": {"type": "square", "size": 42, "filled": true, "color": "black", "strokeWidth": 1, "stroke": "black", "opacity": 1}},
        {"data": {"name": "keyC"}, "mark": {"type": "text", "fontSize": 18, "align": "left", "baseline": "middle", "dx": 21, "color": "black"}, "encoding": {"text": {"field": "series"}}}
      ]
    }
  ]
}
